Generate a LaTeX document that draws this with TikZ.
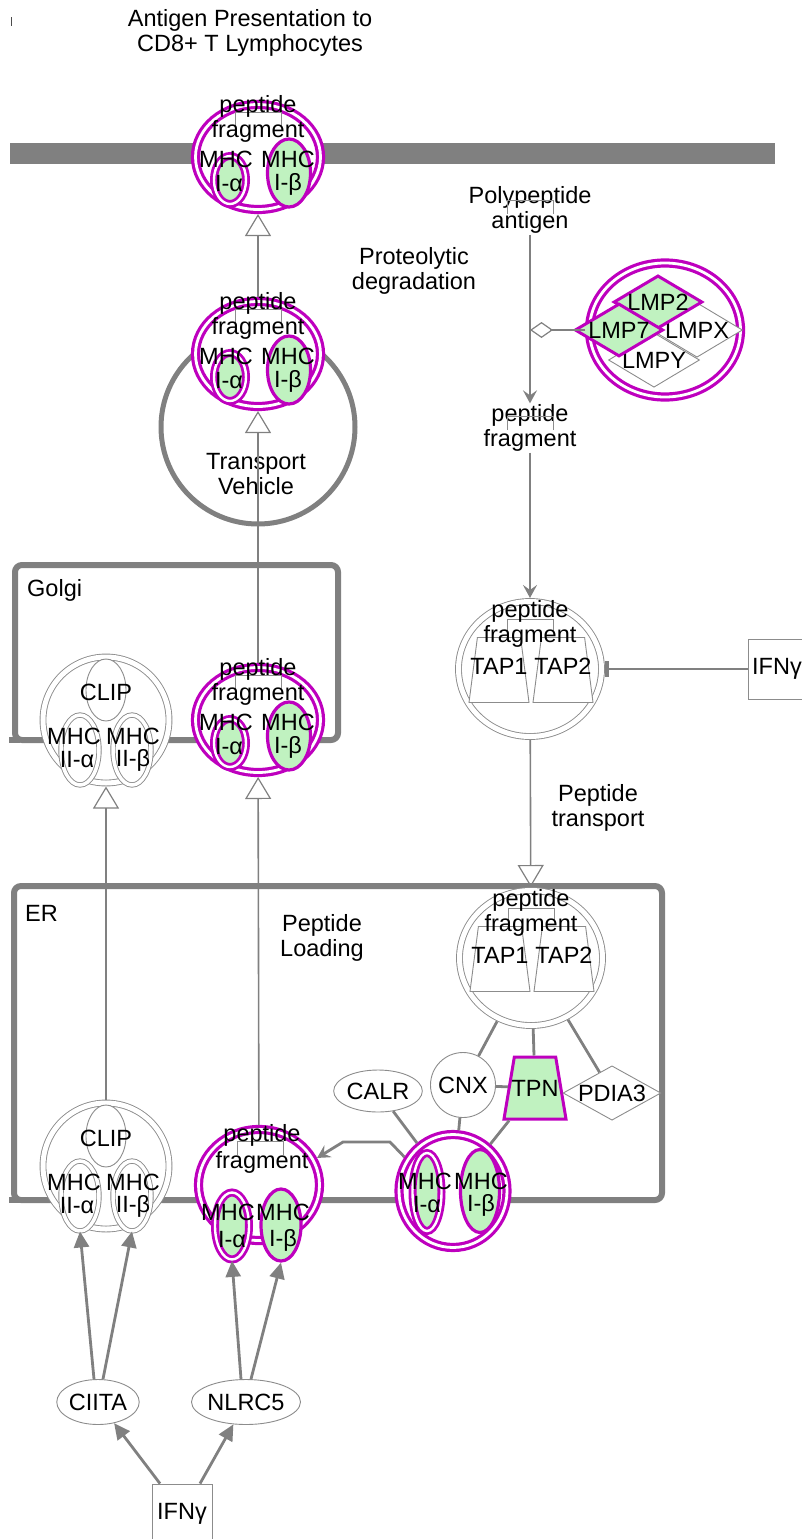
\documentclass[tikz,border=0pt]{standalone}
\usepackage{fontspec}
\setmainfont{Liberation Sans}
\usetikzlibrary{shapes.geometric,arrows.meta}

\definecolor{mhcpurple}{RGB}{190,0,190}
\definecolor{mhcgreen}{RGB}{192,242,192}
\definecolor{wiregray}{RGB}{128,128,128}
\definecolor{shellgray}{RGB}{140,140,140}

\tikzset{
  lbl/.style={align=center, inner sep=1pt},
  compbox/.style={draw=wiregray, line width=6pt, rounded corners=7pt},
  ringI/.style={ellipse, draw=mhcpurple, line width=3.2pt, double=white, double distance=2.8pt, fill=white, inner sep=0pt, outer sep=4.5pt},
  chainA/.style={ellipse, draw=mhcpurple, line width=2.8pt, double=white, double distance=2.4pt, fill=mhcgreen, inner sep=0pt},
  chainB/.style={ellipse, draw=mhcpurple, line width=3.2pt, fill=mhcgreen, inner sep=0pt},
  ringII/.style={circle, draw=shellgray, line width=0.9pt, double=white, double distance=5pt, fill=white, inner sep=0pt, outer sep=3.5pt},
  chainII/.style={ellipse, draw=shellgray, line width=0.9pt, double=white, double distance=3.5pt, fill=white, inner sep=0pt},
  plain/.style={draw=shellgray, line width=0.9pt, fill=white, inner sep=0pt},
  lmpon/.style={diamond, draw=mhcpurple, line width=3pt, fill=mhcgreen, inner sep=0pt, aspect=1.67, minimum width=77, minimum height=46},
  lmpoff/.style={diamond, plain, aspect=1.67, minimum width=77, minimum height=46},
  tapbox/.style={trapezium, plain, inner sep=2pt, trapezium left angle=79, trapezium right angle=79, trapezium stretches=true, minimum width=60, minimum height=65},
  glyph/.style={draw=shellgray, line width=0.8pt},
  wire/.style={draw=wiregray, line width=2.8pt},
  thinwire/.style={draw=wiregray, line width=1.6pt},
  transarr/.style={thinwire, -{Triangle[open, length=22pt, width=26pt, line width=1.2pt]}},
  actarr/.style={wire, -{Triangle[length=16pt, width=15pt]}},
  convarr/.style={wire, -{Stealth[length=13pt, width=14pt, inset=5pt]}},
  inhib/.style={wire, -{Bar[width=16pt, line width=4pt]}},
  catal/.style={wire, -{Diamond[open, length=23pt, width=16pt, line width=1.2pt]}}
}

% peptide mark behind the text
\def\pepmark(#1,#2){\draw[glyph] ({#1-23},{#2+7}) -- ({#1-23},{#2-7}) -- ({#1+23},{#2-7}) -- ({#1+23},{#2+7});}

% MHC class I with peptide fragment
\def\mhcpep#1(#2,#3){%
  \begin{scope}[shift={(#2,#3)}]
    \node[ringI, minimum width=125, minimum height=105] (#1) at (0,0) {};
    \node[chainA, minimum width=32, minimum height=48] (#1-a) at (-28,23) {};
    \node[chainB, minimum width=43, minimum height=68] (#1-b) at (31,16) {};
    \pepmark(0,-38)
    \node[lbl] (#1-t1) at (0,-51) {peptide};
    \node[lbl] (#1-t2) at (0,-26) {fragment};
    \node[lbl] (#1-t3) at (-32,2) {MHC};
    \node[lbl] (#1-t4) at (30,2) {MHC};
    \node[lbl] (#1-t5) at (-29,27) {I-α};
    \node[lbl] (#1-t6) at (30,27) {I-β};
  \end{scope}}

% MHC class II with CLIP
\def\mhctwo#1(#2,#3){%
  \begin{scope}[shift={(#2,#3)}]
    \node[ringII, minimum size=126] (#1) at (0,0) {};
    \node[plain, ellipse, minimum width=40, minimum height=62] (#1-c) at (0,-30) {};
    \node[chainII, minimum width=38, minimum height=70] (#1-a) at (-26,30) {};
    \node[chainII, minimum width=38, minimum height=70] (#1-b) at (26,30) {};
    \node[lbl] (#1-t1) at (0,-28) {CLIP};
    \node[lbl] (#1-t2) at (-32,16) {MHC};
    \node[lbl] (#1-t3) at (-29,40) {II-α};
    \node[lbl] (#1-t4) at (27,16) {MHC};
    \node[lbl] (#1-t5) at (27,40) {II-β};
  \end{scope}}

% TAP transporter with peptide fragment
\def\tapcx#1(#2,#3){%
  \begin{scope}[shift={(#2,#3)}]
    \node[ringII, ellipse, minimum width=143, minimum height=135] (#1) at (0,0) {};
    \node[tapbox] (#1-a) at (-31,1) {};
    \node[tapbox] (#1-b) at (33,1) {};
    \pepmark(0,-43)
    \node[lbl] (#1-t1) at (0,-58) {peptide};
    \node[lbl] (#1-t2) at (0,-33) {fragment};
    \node[lbl] (#1-t3) at (-31,-3) {TAP1};
    \node[lbl] (#1-t4) at (33,-3) {TAP2};
  \end{scope}}

\begin{document}
\begin{tikzpicture}[x=1pt, y=-1pt, font=\fontsize{23.5}{25}\selectfont]
  \useasboundingbox (0,0) rectangle (802,1539);
  %%%%% START %%%%%

  \draw[black!70, line width=0.7pt] (11,17) -- (11,26);
  \node[lbl] (title) at (250,33) {Antigen Presentation to\\CD8+ T Lymphocytes};

  % membrane, Golgi, ER
  \fill[wiregray] (10,143) rectangle (775,164);
  \draw[compbox] (15,565) rectangle (338,740);
  \draw[compbox] (9,740) -- (20,740);
  \draw[compbox] (14,886) rectangle (662,1200);
  \draw[compbox] (9,1200) -- (20,1200);
  \node[lbl, anchor=west] (golgiLbl) at (26,590) {Golgi};
  \node[lbl, anchor=west] (erLbl) at (24,913) {ER};

  \node[circle, draw=wiregray, line width=5pt, minimum size=194] (vesicle) at (258,427) {};
  \node[lbl] (vesLbl) at (256,474) {Transport\\Vehicle};

  % complexes
  \mhcpep topI(258,157)
  \mhcpep vesI(258,354)
  \mhcpep golgiI(258,720)
  \mhctwo golgiII(106,720)
  \mhctwo erII(106,1166)
  \tapcx tapC(530,669)
  \tapcx tapER(531,958)

  \node[ringI, minimum width=121, minimum height=111] (pepER) at (259,1185) {};
  \node[chainA, minimum width=34, minimum height=67] (pepER-a) at (232,1226) {};
  \node[chainB, minimum width=40, minimum height=72] (pepER-b) at (281,1225) {};
  \pepmark(260,1148)
  \node[lbl] (pepER-t1) at (262,1135) {peptide};
  \node[lbl] (pepER-t2) at (262,1162) {fragment};
  \node[lbl] (pepER-t3) at (228,1212) {MHC};
  \node[lbl] (pepER-t4) at (283,1212) {MHC};
  \node[lbl] (pepER-t5) at (232,1240) {I-α};
  \node[lbl] (pepER-t6) at (283,1240) {I-β};

  \node[ringI, minimum width=108, minimum height=113] (mhcER) at (453,1191) {};
  \node[chainA, minimum width=29, minimum height=78] (mhcER-a) at (427,1192) {};
  \node[chainB, minimum width=39, minimum height=83] (mhcER-b) at (480,1191) {};
  \node[lbl] (mhcER-t1) at (425,1181) {MHC};
  \node[lbl] (mhcER-t2) at (481,1181) {MHC};
  \node[lbl] (mhcER-t3) at (427,1205) {I-α};
  \node[lbl] (mhcER-t4) at (481,1205) {I-β};

  % proteasome
  \node[ringI, minimum width=151, minimum height=134] (lmp) at (665,330) {};
  \node[lmpoff] (lmpx) at (697,330) {LMPX};
  \node[lmpoff] (lmpy) at (654,360) {LMPY};
  \node[lmpon] (lmp2) at (658,302) {LMP2};
  \node[lmpon] (lmp7) at (619,330) {LMP7};

  % chaperones
  \node[plain, ellipse, minimum width=75, minimum height=42] (calr) at (378,1091) {CALR};
  \node[plain, circle, minimum size=65] (cnx) at (463,1085) {CNX};
  \node[trapezium, draw=mhcpurple, line width=3pt, fill=mhcgreen, inner sep=2pt, trapezium left angle=76, trapezium right angle=76, trapezium stretches=true, minimum width=62, minimum height=62] (tpn) at (535,1088) {};
  \node[lbl] (tpnLbl) at (tpn.center) {TPN};
  \node[plain, diamond, aspect=1.8, minimum width=77, minimum height=43] (pdia) at (612,1093) {PDIA3};

  % regulators
  \node[plain, ellipse, minimum width=63, minimum height=45] (ciita) at (98,1402) {CIITA};
  \node[plain, ellipse, minimum width=63, minimum height=45] (nlrc) at (246,1402) {NLRC5};
  \node[plain, rectangle, minimum width=60, minimum height=60] (ifnB) at (182,1514) {IFNγ};
  \node[plain, rectangle, minimum width=58, minimum height=60] (ifnT) at (777,669) {IFNγ};

  % free labels
  \node[lbl] (poly) at (530,210) {Polypeptide\\antigen};
  \pepmark(530,207)
  \node[lbl] (pepC) at (530,428) {peptide\\fragment};
  \pepmark(530,423)
  \node[lbl] (proteo) at (414,271) {Proteolytic\\degradation};
  \node[lbl] (pepTrans) at (598,808) {Peptide\\transport};
  \node[lbl] (loadLbl) at (322,938) {Peptide\\Loading};

  % connectors
  \draw[transarr] (vesI) -- (topI);
  \draw[transarr] (golgiI) -- (vesI);
  \draw[transarr] (pepER) -- (golgiI);
  \draw[transarr] (erII) -- (golgiII);
  \draw[transarr] (tapC) -- (tapER);

  \draw[convarr] (poly) -- (pepC);
  \draw[convarr] (pepC) -- (tapC);
  \coordinate (cat) at (530,330);
  \draw[catal] (lmp) -- (cat);
  \draw[inhib] (ifnT) -- (tapC);

  \draw[wire] (tapER) -- (cnx);
  \draw[wire] (tapER) -- (tpn);
  \draw[wire] (tapER) -- (pdia);
  \draw[wire] (cnx) -- (tpn);
  \draw[wire] (calr) -- (mhcER);
  \draw[wire] (cnx) -- (mhcER);
  \draw[wire] (tpn) -- (mhcER);

  \coordinate (bendA) at (390,1142);
  \coordinate (bendB) at (343,1142);
  \draw[convarr] (mhcER.145) -- (bendA) -- (bendB) -- (pepER.25);

  \draw[actarr] ([xshift=-4pt]ciita.north) -- (erII-a.south);
  \draw[actarr] ([xshift=5pt]ciita.north) -- (erII-b.south);
  \draw[actarr] ([xshift=-5pt]nlrc.north) -- (pepER-a.south);
  \draw[actarr] ([xshift=5pt]nlrc.north) -- (pepER-b.south);
  \draw[actarr] ([xshift=-22pt]ifnB.north) -- (ciita);
  \draw[actarr] ([xshift=18pt]ifnB.north) -- (nlrc);

  %%%%% END %%%%%
\end{tikzpicture}
\end{document}
